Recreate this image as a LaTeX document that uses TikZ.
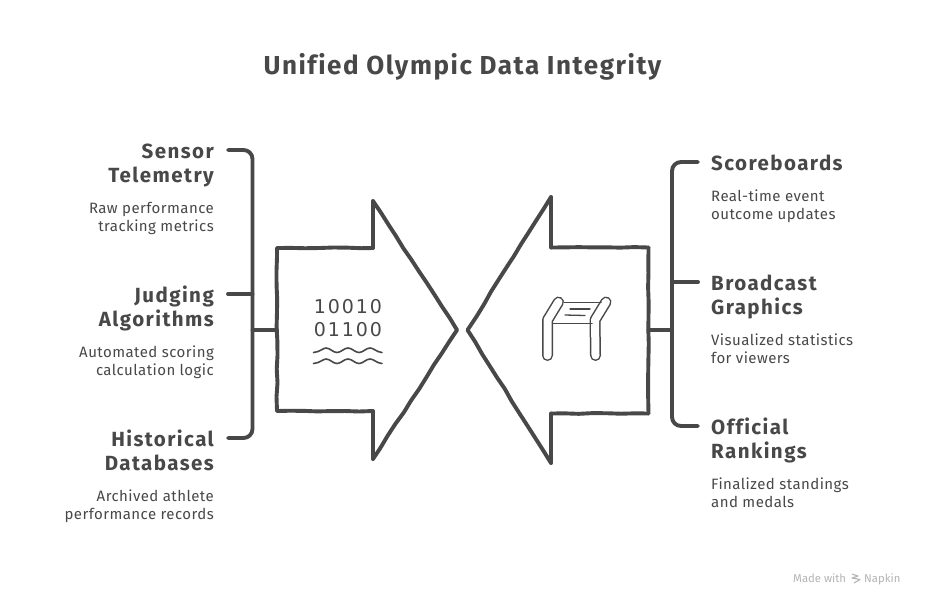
\documentclass[tikz,border=0pt]{standalone}
\usepackage{fontspec}
\setmainfont{Fira Sans}
\newfontfamily\headfont[LetterSpace=7,Ligatures=NoCommon]{Fira Sans}
\newfontfamily\titlefont[LetterSpace=6,Ligatures=NoCommon]{Fira Sans}
\newfontfamily\bodyfont[LetterSpace=3,Ligatures=NoCommon]{Fira Sans}
\newfontfamily\numfont[LetterSpace=10]{DejaVu Sans}
\usetikzlibrary{decorations.pathmorphing}
\definecolor{ink}{HTML}{484848}
\definecolor{mark}{HTML}{B4B4B4}
\tikzset{
  x=1pt,y=-1pt,
  wob/.style={decorate,decoration={random steps,segment length=14pt,amplitude=0.5pt}},
  outline/.style={draw=ink,line width=3.9pt,line join=round,line cap=round},
  rule/.style={outline,rounded corners=9pt},
  head/.style={inner sep=0pt,text=ink,font=\headfont\bfseries\fontsize{20.5pt}{24pt}\selectfont},
  body/.style={inner sep=0pt,text=ink,font=\bodyfont\fontsize{15pt}{18pt}\selectfont},
  lefttext/.style={anchor=base east},
  righttext/.style={anchor=base west},
  tube/.style={draw=ink,line width=1.5pt,double=white,double distance=8pt,line cap=round,line join=round},
  thin/.style={draw=ink,line width=1.5pt,line cap=round},
}
\begin{document}
\begin{tikzpicture}
\useasboundingbox[fill=white] (0,0) rectangle (925,606);
\pgfmathsetseed{7}
\node[inner sep=0pt,text=ink,font=\titlefont\bfseries\fontsize{26pt}{30pt}\selectfont,anchor=base] (title) at (462.5,74) {Unified Olympic Data Integrity};

% left texts
\node[head,lefttext] (l1a) at (214,158) {Sensor};
\node[head,lefttext] (l1b) at (214,182) {Telemetry};
\node[body,lefttext] (l1c) at (214,213) {Raw performance};
\node[body,lefttext] (l1d) at (214,231) {tracking metrics};
\node[head,lefttext] (l2a) at (214,302) {Judging};
\node[head,lefttext] (l2b) at (214,326) {Algorithms};
\node[body,lefttext] (l2c) at (214,357) {Automated scoring};
\node[body,lefttext] (l2d) at (214,375) {calculation logic};
\node[head,lefttext] (l3a) at (214,446) {Historical};
\node[head,lefttext] (l3b) at (214,470) {Databases};
\node[body,lefttext] (l3c) at (214,501) {Archived athlete};
\node[body,lefttext] (l3d) at (214,519) {performance records};
% right texts
\node[head,righttext] (r1a) at (711,170) {Scoreboards};
\node[body,righttext] (r1b) at (711,201) {Real-time event};
\node[body,righttext] (r1c) at (711,219) {outcome updates};
\node[head,righttext] (r2a) at (711,290) {Broadcast};
\node[head,righttext] (r2b) at (711,314) {Graphics};
\node[body,righttext] (r2c) at (711,345) {Visualized statistics};
\node[body,righttext] (r2d) at (711,363) {for viewers};
\node[head,righttext] (r3a) at (711,434) {Official};
\node[head,righttext] (r3b) at (711,458) {Rankings};
\node[body,righttext] (r3c) at (711,489) {Finalized standings};
\node[body,righttext] (r3d) at (711,507) {and medals};

% left bracket
\coordinate (lbt) at (228,150); \coordinate (lbtc) at (252.5,150);
\coordinate (lbbc) at (252.5,438); \coordinate (lbb) at (228,438);
\coordinate (lbm0) at (228,294); \coordinate (lbm1) at (252.5,294);
\coordinate (lbj) at (252.5,330); \coordinate (la) at (277,330);
\draw[rule] (lbt) -- (lbtc) -- (lbbc) -- (lbb);
\draw[outline] (lbm0) -- (lbm1);
\draw[outline] (lbj) -- (la);

% left arrow
\coordinate (a1) at (277,248); \coordinate (a2) at (373,248);
\coordinate (a3) at (373,201); \coordinate (a4) at (457,330);
\coordinate (a5) at (373,459); \coordinate (a6) at (373,411);
\coordinate (a7) at (277,411);
\draw[outline,wob] (a1) -- (a2);
\draw[outline] (a2) -- (a3);
\draw[outline,wob] (a3) -- (a4);
\draw[outline,wob] (a4) -- (a5);
\draw[outline] (a5) -- (a6);
\draw[outline,wob] (a6) -- (a7);
\draw[outline,wob] (a7) -- (a1);

% right arrow
\coordinate (b1) at (648.5,247.5); \coordinate (b2) at (551,247.5);
\coordinate (b3) at (551,197); \coordinate (b4) at (467.5,330);
\coordinate (b5) at (551,463); \coordinate (b6) at (551,413.5);
\coordinate (b7) at (648.5,413.5);
\draw[outline,wob] (b1) -- (b2);
\draw[outline] (b2) -- (b3);
\draw[outline,wob] (b3) -- (b4);
\draw[outline,wob] (b4) -- (b5);
\draw[outline] (b5) -- (b6);
\draw[outline,wob] (b6) -- (b7);
\draw[outline,wob] (b7) -- (b1);

% right bracket
\coordinate (rbt) at (698,162); \coordinate (rbtc) at (672,162);
\coordinate (rbbc) at (672,426); \coordinate (rbb) at (698,426);
\coordinate (rbm0) at (698,282); \coordinate (rbm1) at (672,282);
\coordinate (rbj) at (672,330); \coordinate (ra) at (648.5,330);
\draw[rule] (rbt) -- (rbtc) -- (rbbc) -- (rbb);
\draw[outline] (rbm0) -- (rbm1);
\draw[outline] (rbj) -- (ra);

% binary icon
\node[inner sep=0pt,text=ink,font=\numfont\fontsize{19pt}{23pt}\selectfont,anchor=base] (bin1) at (348,313) {10010};
\node[inner sep=0pt,text=ink,font=\numfont\fontsize{19pt}{23pt}\selectfont,anchor=base] (bin2) at (348,336) {01100};
\foreach \yy in {350,361}{
  \draw[thin,line width=1.6pt] (313.5,\yy+2.5) .. controls (320,\yy+2) and (323,\yy-2) .. (326,\yy-2)
    .. controls (330,\yy-2) and (333,\yy+2.5) .. (337,\yy+2.5)
    .. controls (341,\yy+2.5) and (344,\yy-2) .. (348,\yy-2)
    .. controls (352,\yy-2) and (355,\yy+2.5) .. (359,\yy+2.5)
    .. controls (363,\yy+2.5) and (366,\yy-2) .. (370,\yy-2)
    .. controls (374,\yy-2) and (376,\yy+2) .. (382,\yy+2.5);
}

% table icon
\draw[tube] (558.5,302) -- (547.5,320) -- (547.5,355.5);
\draw[tube] (606,302) -- (595,320) -- (595.5,355.5);
\draw[thin] (564,302.5) -- (601,302.5);
\draw[thin] (553,323.5) -- (592,323.5);
\draw[thin,line width=1.3pt] (570,309) -- (590,309);
\draw[thin,line width=1.3pt] (565,315) -- (585,315.5);

% watermark
\node[inner sep=0pt,text=mark,font=\fontsize{11.3pt}{13pt}\selectfont,anchor=base west] (made) at (793,582) {Made with};
\node[inner sep=0pt,text=mark,font=\fontsize{11.3pt}{13pt}\selectfont,anchor=base west] (napkin) at (864,582) {Napkin};
\draw[draw=mark,line width=1.1pt,line join=round] (852,574) -- (858,576) -- (852,578) -- (860,579.5) -- (854,583);
\end{tikzpicture}
\end{document}
